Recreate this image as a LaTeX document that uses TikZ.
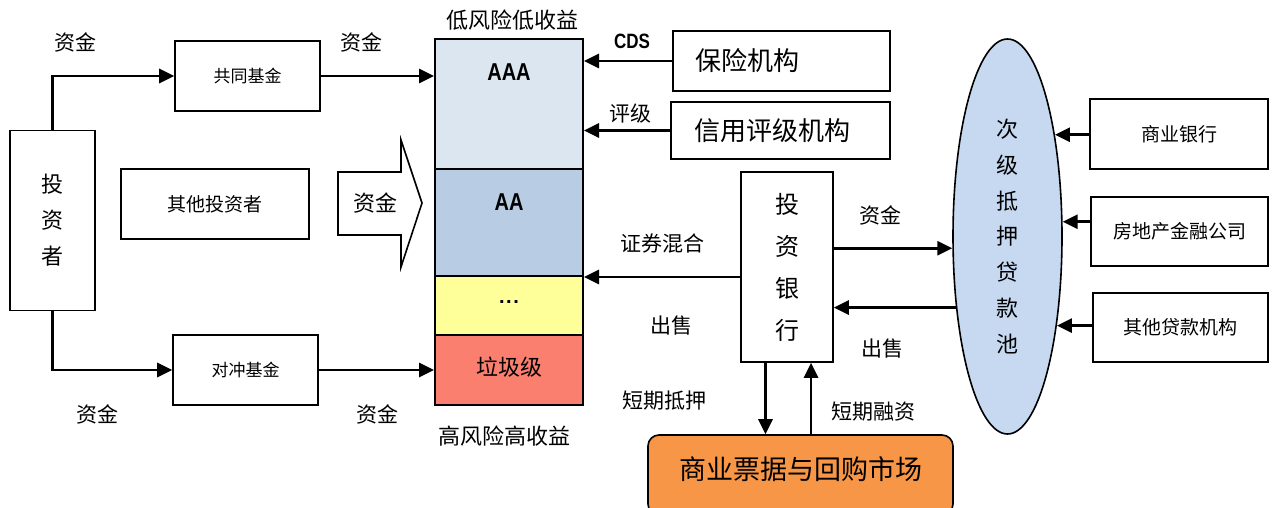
\documentclass[tikz,border=0pt]{standalone}
\usepackage{fontspec}
\usepackage{graphicx}
\setmainfont{Noto Sans CJK SC}
\newfontfamily\latinfont{Liberation Sans}
\usetikzlibrary{arrows.meta,shapes.geometric}

\definecolor{trAAA}{HTML}{DCE6F1}
\definecolor{trAA}{HTML}{B8CCE4}
\definecolor{trmid}{HTML}{FFFF99}
\definecolor{trjunk}{HTML}{FA7F6E}
\definecolor{poolblue}{HTML}{C6D9F0}
\definecolor{mktorange}{HTML}{F79646}

\newcommand{\fs}[2]{\fontsize{#1}{#2}\selectfont}
\newcommand{\tall}[1]{\scalebox{1}[1.22]{#1}}

\tikzset{
  box/.style={draw, line width=1.6pt, inner sep=0pt, align=center},
  tranche/.style={draw, line width=2pt, minimum width=148pt, inner sep=0pt},
  flow/.style={line width=2.8pt, -{Triangle[length=15pt,width=14pt]}},
  lbl/.style={inner sep=0pt, font=\fs{21}{21}},
  grade/.style={inner sep=0pt, font=\latinfont\bfseries\fs{20}{20}},
}

\begin{document}
\begin{tikzpicture}[x=1pt, y=-1pt]
\useasboundingbox (0,0) rectangle (1276,508);

% investors and funds
\node[box, minimum width=85pt, minimum height=180pt, font=\fs{22}{36}] (inv) at (52.5,220.5) {投\\资\\者};
\node[box, minimum width=145pt, minimum height=70pt, font=\fs{17}{17}] (mutual) at (247.5,76) {共同基金};
\node[box, minimum width=188pt, minimum height=70pt, font=\fs{19}{19}] (others) at (215,204) {其他投资者};
\node[box, minimum width=145pt, minimum height=70pt, font=\fs{17}{17}] (hedge) at (245.5,370) {对冲基金};

% tranche stack
\node[tranche, fill=trAAA, minimum height=130pt] (aaa) at (509,104) {};
\node[tranche, fill=trAA, minimum height=107pt] (aa) at (509,222.5) {};
\node[tranche, fill=trmid, minimum height=59pt] (mid) at (509,305.5) {};
\node[tranche, fill=trjunk, minimum height=70pt] (junk) at (509,370) {};
\node[grade] (taaa) at (509,72) {\tall{AAA}};
\node[grade] (taa) at (509,202) {\tall{AA}};
\node[grade] (tmid) at (509,302) {.\kern1.6pt.\kern1.6pt.};
\node[lbl, font=\fs{22}{22}] (tjunk) at (509,367) {垃圾级};
\node[lbl, font=\fs{22}{22}] (lowrisk) at (512,20) {低风险低收益};
\node[lbl, font=\fs{22}{22}] (highrisk) at (504,436) {高风险高收益};

% block arrow of funds from other investors
\draw[line width=1.6pt, fill=white]
  (338,172) -- (401,172) -- (401,140) -- (422,203) -- (401,267) -- (401,235) -- (338,235) -- cycle;
\node[lbl, font=\fs{22}{22}] (blockfund) at (375,203) {资金};

% investor flows
\draw[flow] (inv.north) |- (mutual.west);
\draw[flow] (inv.south) |- (hedge.west);
\draw[flow] (mutual.east) -- (mutual.east -| aaa.west);
\draw[flow] (hedge.east) -- (hedge.east -| junk.west);
\node[lbl] (f1) at (75,42) {资金};
\node[lbl] (f2) at (361,42) {资金};
\node[lbl] (f3) at (97,414) {资金};
\node[lbl] (f4) at (377,414) {资金};

% insurers and rating agencies
\node[box, minimum width=217pt, minimum height=60pt, text width=173pt, align=left, font=\fs{26}{26}] (ins) at (781.5,61) {保险机构};
\node[box, minimum width=219pt, minimum height=57pt, text width=173pt, align=left, font=\fs{26}{26}] (rating) at (780.5,130.5) {信用评级机构};
\draw[flow] (ins.west) -- (ins.west -| aaa.east);
\draw[flow] (rating.west) -- (rating.west -| aaa.east);
\node[inner sep=0pt, font=\latinfont\bfseries\fs{17}{17}] (cds) at (632,41) {\tall{CDS}};
\node[lbl] (rt) at (630,114) {评级};

% investment bank
\node[box, minimum width=92pt, minimum height=190pt, font=\fs{24}{42}] (ib) at (787,267) {投\\资\\银\\行};
\draw[flow] ([yshift=-10pt]ib.west) -- ([yshift=-10pt]ib.west -| aa.east);
\node[lbl] (mix) at (662,244) {证券混合};
\node[lbl] (sell1) at (671,326) {出售};

% mortgage pool
\node[draw, line width=1.6pt, fill=poolblue, ellipse, minimum width=109pt, minimum height=395pt, inner sep=0pt, font=\fs{22}{35.7}, align=center] (pool) at (1007.5,236.5) {次\\级\\抵\\押\\贷\\款\\池};
\draw[flow] (pool.192 -| ib.east) -- (pool.192);
\draw[flow] (pool.234.2) -- (pool.234.2 -| ib.east);
\node[lbl] (fund5) at (880,215) {资金};
\node[lbl] (sell2) at (882,349) {出售};

% loan originators
\node[box, minimum width=178pt, minimum height=70pt, font=\fs{19}{19}] (bank) at (1179,134) {商业银行};
\node[box, minimum width=177pt, minimum height=69pt, font=\fs{19}{19}] (realty) at (1179.5,231.5) {房地产金融公司};
\node[box, minimum width=175pt, minimum height=69pt, font=\fs{19}{19}] (lenders) at (1180.5,327.5) {其他贷款机构};
\draw[flow] (pool.65.6 -| bank.west) -- (pool.65.6);
\draw[flow] (pool.15 -| realty.west) -- (pool.15);
\draw[flow] (pool.-61.5 -| lenders.west) -- (pool.-61.5);

% commercial paper and repo market
\node[draw, line width=1.6pt, fill=mktorange, rounded corners=11pt, minimum width=305pt, minimum height=80pt, inner sep=0pt] (mkt) at (800.5,475) {};
\node[inner sep=0pt, font=\fs{27}{27}] (mkttext) at (800.5,469) {商业票据与回购市场};
\draw[flow] ([xshift=-21.5pt]ib.south) -- ([xshift=-21.5pt]ib.south |- mkt.north);
\draw[flow] ([xshift=24pt]ib.south |- mkt.north) -- ([xshift=24pt]ib.south);
\node[lbl] (short1) at (664,401) {短期抵押};
\node[lbl] (short2) at (873,412) {短期融资};
\end{tikzpicture}
\end{document}
